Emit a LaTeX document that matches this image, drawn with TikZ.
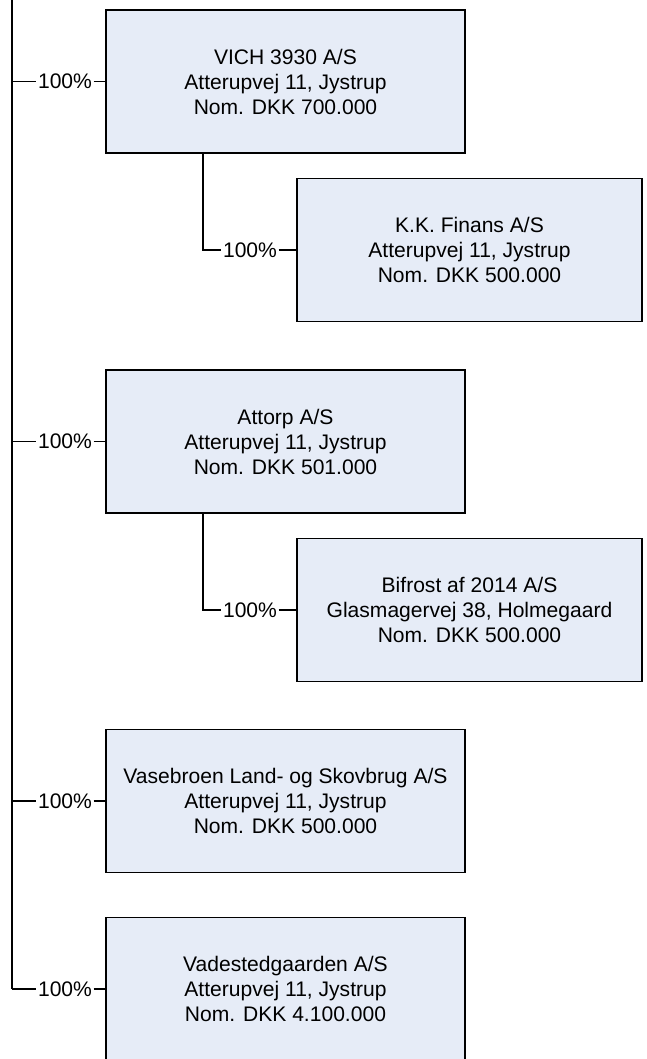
\documentclass[tikz,border=0pt]{standalone}
\usepackage{fontspec}
\setmainfont{Liberation Sans}
\definecolor{firmfill}{RGB}{230,236,247}
\tikzset{
  firm/.style={draw,line width=1.2pt,fill=firmfill,minimum width=269.25pt,minimum height=107.25pt,align=center,font=\fontsize{15.8}{18.75}\selectfont},
  subfirm/.style={firm,minimum width=258.75pt},
  pct/.style={inner sep=1pt,font=\fontsize{15.8}{18.75}\selectfont},
  link/.style={line width=1.2pt}
}
\begin{document}
\begin{tikzpicture}[x=0.75pt,y=-0.75pt]
\clip (0,0) rectangle (646,1059);
\node[firm] (vich) at (285.5,81.5) {VICH 3930 A/S\\Atterupvej 11, Jystrup\\Nom. DKK 700.000};
\node[subfirm] (kk) at (469.5,250) {K.K. Finans A/S\\Atterupvej 11, Jystrup\\Nom. DKK 500.000};
\node[firm] (attorp) at (285.5,441.5) {Attorp A/S\\Atterupvej 11, Jystrup\\Nom. DKK 501.000};
\node[subfirm] (bifrost) at (469.5,610) {Bifrost af 2014 A/S\\Glasmagervej 38, Holmegaard\\Nom. DKK 500.000};
\node[firm] (vasebroen) at (285.5,801) {Vasebroen Land- og Skovbrug A/S\\Atterupvej 11, Jystrup\\Nom. DKK 500.000};
\node[firm] (vadested) at (285.5,989) {Vadestedgaarden A/S\\Atterupvej 11, Jystrup\\Nom. DKK 4.100.000};
% trunk on the left
\coordinate (top) at (12,0);
\coordinate (bot) at (12,989);
\draw[link] (top) -- (bot);
\node[pct] (p1) at (65,81.5) {100\%};
\node[pct] (p3) at (65,441.5) {100\%};
\node[pct] (p5) at (65,801) {100\%};
\node[pct] (p6) at (65,989) {100\%};
\draw[link] (top |- p1) -- (p1) -- (vich);
\draw[link] (top |- p3) -- (p3) -- (attorp);
\draw[link] (top |- p5) -- (p5) -- (vasebroen);
\draw[link] (bot) -- (p6) -- (vadested);
% second level
\coordinate (c2) at (203,250);
\coordinate (c4) at (203,610);
\node[pct] (p2) at (250,250) {100\%};
\node[pct] (p4) at (250,610) {100\%};
\draw[link] (c2 |- vich.south) -- (c2) -- (p2) -- (kk);
\draw[link] (c4 |- attorp.south) -- (c4) -- (p4) -- (bifrost);
\end{tikzpicture}
\end{document}
